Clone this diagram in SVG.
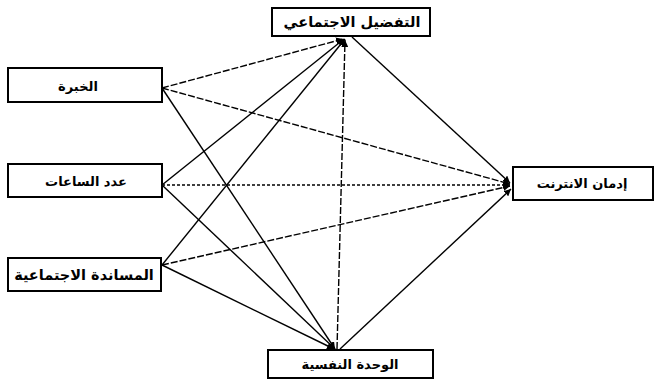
<svg xmlns="http://www.w3.org/2000/svg" width="657" height="388" viewBox="0 0 657 388">
<style>
.box{fill:#fff;stroke:#000;stroke-width:2}
.lbl{font-family:"DejaVu Sans","Noto Sans",sans-serif;font-size:13px;font-weight:bold;fill:#000;text-anchor:middle;dominant-baseline:central}
.big{font-size:14.5px}
.c{stroke:#000;stroke-width:1.4;fill:none}
.d{stroke-dasharray:7 2}
.dd{stroke-dasharray:3 2}
</style>
<defs>
<marker id="ah" viewBox="0 0 10 10" refX="10" refY="5" markerWidth="7" markerHeight="7" orient="auto" markerUnits="userSpaceOnUse">
<path d="M0,0 L10,5 L0,10 z" fill="#000"/>
</marker>
</defs>
<rect width="657" height="388" fill="#fff"/>
<g id="connectors">
<line class="c d" x1="162" y1="88" x2="343" y2="39" marker-end="url(#ah)"/>
<line class="c d" x1="162" y1="88" x2="510" y2="184" marker-end="url(#ah)"/>
<line class="c" x1="162" y1="88" x2="335" y2="349" marker-end="url(#ah)"/>
<line class="c" x1="162" y1="185" x2="344" y2="39" marker-end="url(#ah)"/>
<line class="c dd" x1="162" y1="185" x2="510" y2="185" marker-end="url(#ah)"/>
<line class="c" x1="162" y1="185" x2="335" y2="349" marker-end="url(#ah)"/>
<line class="c" x1="162" y1="265" x2="345" y2="39" marker-end="url(#ah)"/>
<line class="c d" x1="162" y1="265" x2="510" y2="186" marker-end="url(#ah)"/>
<line class="c" x1="162" y1="265" x2="334" y2="349" marker-end="url(#ah)"/>
<line class="c" x1="352" y1="37" x2="510" y2="183" marker-end="url(#ah)"/>
<line class="c" x1="340" y1="349" x2="511" y2="189" marker-end="url(#ah)"/>
<line class="c d" x1="337" y1="349" x2="345" y2="40" marker-end="url(#ah)"/>
</g>
<g id="n-experience"><rect class="box" x="8" y="68" width="154" height="34"/><text class="lbl" x="78" y="86">الخبرة</text></g>
<g id="n-hours"><rect class="box" x="8" y="164" width="154" height="33"/><text class="lbl" x="86" y="181">عدد الساعات</text></g>
<g id="n-support"><rect class="box" x="8" y="258" width="153" height="33"/><text class="lbl big" x="84" y="275">المساندة الاجتماعية</text></g>
<g id="n-preference"><rect class="box" x="272" y="8" width="158" height="28"/><text class="lbl big" x="352" y="22">التفضيل الاجتماعي</text></g>
<g id="n-loneliness"><rect class="box" x="268" y="350" width="165" height="28"/><text class="lbl" x="350" y="364">الوحدة النفسية</text></g>
<g id="n-addiction"><rect class="box" x="513" y="167" width="140" height="33"/><text class="lbl" x="582" y="183">إدمان الانترنت</text></g>
</svg>
